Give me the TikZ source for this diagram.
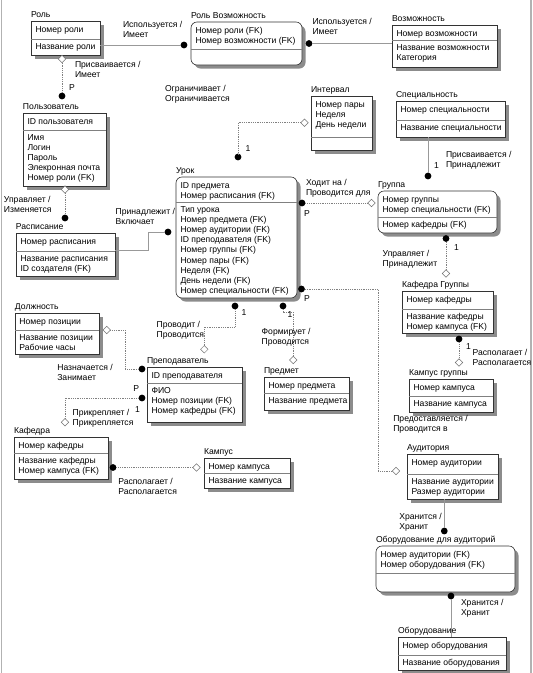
\documentclass[tikz,border=0pt]{standalone}
\usepackage{fontspec}
\setmainfont{Liberation Sans}
\usetikzlibrary{calc,shapes.geometric,shadows}
\newcommand\fsz{\fontsize{8.6}{10.1}\selectfont}
\newcommand\rows[1]{\begin{tabular}[t]{@{}l@{}}#1\end{tabular}}
\tikzset{
 box/.style={draw=black!80, line width=0.6pt, fill=white, inner sep=0pt, outer sep=0pt, anchor=north west,
   drop shadow={shadow xshift=3.5pt, shadow yshift=-3.5pt, fill=black!45, opacity=1}},
 rbox/.style={box, rounded corners=6pt},
 divl/.style={draw=black!50, line width=0.6pt},
 txt/.style={anchor=base west, inner sep=0pt, outer sep=0pt, font=\fsz, text=black},
 sol/.style={draw=black!40, line width=0.7pt},
 dotc/.style={draw=black!50, line width=0.7pt, dash pattern=on 0.9pt off 0.9pt},
 dotm/.style={circle, fill=black, inner sep=0pt, outer sep=0pt, minimum size=6.8pt},
 diam/.style={diamond, draw=black!55, fill=white, line width=0.5pt, inner sep=0pt, outer sep=0pt, minimum size=7.5pt},
}
\newcommand\ent[9]{%
 \node[#2, minimum width={#5-#3}, minimum height={#6-#4}] (#1) at (#3,#4) {};
 \draw[divl] (#3,#7) -- (#5,#7);
 \node[txt] (#1-t) at (#3,#4-4) {#8};
 \node[txt] (#1-k) at (#3+4.5,#4+11) {\rows{#9}};
 \gdef\lastx{#3}\gdef\lastdiv{#7}}
\newcommand\eattr[2]{\node[txt] (#1-a) at (\lastx+4.5,\lastdiv+10.5) {\rows{#2}};}
\begin{document}
\begin{tikzpicture}[x=1pt,y=-1pt]
\useasboundingbox (0,0) rectangle (533,673);
\draw[black!30, line width=1.2pt] (1.5,0) -- (1.5,673);
\draw[black!30, line width=1.2pt] (531,0) -- (531,673);

% entities
\ent{rol}{box}{31}{21}{100}{55}{39}{Роль}{Номер роли}
\eattr{rol}{Название роли}
\ent{rv}{rbox}{191}{22}{302}{65}{49}{Роль Возможность}{Номер роли (FK)\\Номер возможности (FK)}
\ent{voz}{box}{392}{25}{497}{67}{40}{Возможность}{Номер возможности}
\eattr{voz}{Название возможности\\Категория}
\ent{pol}{box}{23}{113}{106}{186}{130}{Пользователь}{ID пользователя}
\eattr{pol}{Имя\\Логин\\Пароль\\Элекронная почта\\Номер роли (FK)}
\ent{ras}{box}{16}{233}{115}{276}{251}{Расписание}{Номер расписания}
\eattr{ras}{Название расписания\\ID создателя (FK)}
\ent{int}{box}{311}{96}{372}{150}{137}{Интервал}{Номер пары\\Неделя\\День недели}
\ent{spc}{box}{396}{101}{505}{137}{120}{Специальность}{Номер специальности}
\eattr{spc}{Название специальности}
\ent{urok}{rbox}{176}{177}{297}{298}{202}{Урок}{ID предмета\\Номер расписания (FK)}
\eattr{urok}{Тип урока\\Номер предмета (FK)\\Номер аудитории (FK)\\ID преподавателя (FK)\\Номер группы (FK)\\Номер пары (FK)\\Неделя (FK)\\День недели (FK)\\Номер специальности (FK)}
\ent{grp}{rbox}{378}{191}{497}{233}{217}{Группа}{Номер группы\\Номер специальности (FK)}
\eattr{grp}{Номер кафедры (FK)}
\ent{kg}{box}{402}{291}{493}{333}{309}{Кафедра Группы}{Номер кафедры}
\eattr{kg}{Название кафедры\\Номер кампуса (FK)}
\ent{kmg}{box}{409}{379}{493}{412}{396}{Кампус группы}{Номер кампуса}
\eattr{kmg}{Название кампуса}
\ent{aud}{box}{407}{454}{498}{499}{474}{Аудитория}{Номер аудитории}
\eattr{aud}{Название аудитории\\Размер аудитории}
\ent{oda}{rbox}{376}{546}{515}{592}{573}{Оборудование для аудиторий}{Номер аудитории (FK)\\Номер оборудования (FK)}
\ent{obo}{box}{398}{637}{506}{670}{655}{Оборудование}{Номер оборудования}
\eattr{obo}{Название оборудования}
\ent{dol}{box}{15}{313}{99}{354}{330}{Должность}{Номер позиции}
\eattr{dol}{Название позиции\\Рабочие часы}
\ent{pre}{box}{147}{367}{242}{422}{383}{Преподаватель}{ID преподавателя}
\eattr{pre}{ФИО\\Номер позиции (FK)\\Номер кафедры (FK)}
\ent{prd}{box}{264}{377}{349}{410}{393}{Предмет}{Номер предмета}
\eattr{prd}{Название предмета}
\ent{kaf}{box}{14}{437}{108}{479}{453}{Кафедра}{Номер кафедры}
\eattr{kaf}{Название кафедры\\Номер кампуса (FK)}
\ent{kmp}{box}{204}{458}{290}{488}{473}{Кампус}{Номер кампуса}
\eattr{kmp}{Название кампуса}

% relationship ends
\node[dotm] (drv) at (184,45) {};
\node[dotm] (dvz) at (309,43.5) {};
\node[dotm] (dpol) at (62,96) {};
\node[dotm] (dras) at (65,218) {};
\node[dotm] (durR) at (168,232) {};
\node[dotm] (durI) at (238,157) {};
\node[dotm] (durG) at (302,203) {};
\node[dotm] (dspc) at (428,176) {};
\node[dotm] (dgrp) at (446,238.5) {};
\node[dotm] (dkg) at (459,339) {};
\node[dotm] (durA) at (301.5,289) {};
\node[dotm] (daud) at (444.3,531) {};
\node[dotm] (doda) at (451,596) {};
\node[dotm] (durP) at (235,306) {};
\node[dotm] (durM) at (283,306) {};
\node[dotm] (dpreD) at (142,369) {};
\node[dotm] (dpreK) at (142,398) {};
\node[dotm] (dkaf) at (113,467.5) {};

\node[diam] (mrol) at (62,59) {};
\node[diam] (mpol) at (65,189.5) {};
\node[diam] (mint) at (304.5,122.7) {};
\node[diam] (mgrp) at (371.5,203) {};
\node[diam] (mkg) at (446,273.5) {};
\node[diam] (mkmg) at (459,362.5) {};
\node[diam] (maud) at (396,471) {};
\node[diam] (mpre) at (204.3,349.3) {};
\node[diam] (mprd) at (293.3,360) {};
\node[diam] (mdol) at (106.7,330) {};
\node[diam] (mkaf) at (65,422.3) {};
\node[diam] (mkmp) at (196.5,467.5) {};

% connectors
\draw[sol] (rol.east |- drv) -- (drv);
\draw[sol] (dvz) -- (dvz -| voz.west);
\draw[sol] (spc.south -| dspc) -- (dspc);
\draw[sol] ($(ras.north east)+(0,17)$) -- ++(33,0) |- (durR);
\draw[sol] (aud.south -| daud) -- (daud);
\draw[sol] (doda) -- (doda |- obo.north);
\draw[dotc] (mrol) -- (dpol);
\draw[dotc] (mpol) -- (dras);
\draw[dotc] (mint) -| (durI);
\draw[dotc] (durG) -- (mgrp);
\draw[dotc] (dgrp) -- (mkg);
\draw[dotc] (dkg) -- (mkmg);
\draw[dotc] (durA) -- ++(76.5,0) |- (maud);
\draw[dotc] (durP) -- ++(0,21) -| (mpre);
\draw[dotc] (durM) -- ++(0,6) -| (mprd);
\draw[dotc] (mdol) -- ++(18.3,0) |- (dpreD);
\draw[dotc] (dpreK) -| (mkaf);
\draw[dotc] (dkaf) -- (mkmp);

% labels
\node[txt] (l1) at (123,27) {\rows{Используется /\\Имеет}};
\node[txt] (l2) at (312.5,24) {\rows{Используется /\\Имеет}};
\node[txt] (l3) at (75,67) {\rows{Присваивается /\\Имеет}};
\node[txt] (l3p) at (69,90) {P};
\node[txt] (l4) at (4,202) {\rows{Управляет /\\Изменяется}};
\node[txt] (l5) at (115.7,214.3) {\rows{Принадлежит /\\Включает}};
\node[txt] (l6) at (165,91.5) {\rows{Ограничивает /\\Ограничивается}};
\node[txt] (l6n) at (245.5,151) {1};
\node[txt] (l7) at (306,185) {\rows{Ходит на /\\Проводится для}};
\node[txt] (l7p) at (304,216.5) {P};
\node[txt] (l8n) at (434,168.3) {1};
\node[txt] (l8) at (446,157.7) {\rows{Присваивается /\\Принадлежит}};
\node[txt] (l9n) at (454,250) {1};
\node[txt] (l9) at (382.7,256) {\rows{Управляет /\\Принадлежит}};
\node[txt] (l10n) at (466,349) {1};
\node[txt] (l10) at (472.7,355) {\rows{Располагает /\\Располагается}};
\node[txt] (l11p) at (304,301.7) {P};
\node[txt] (l11) at (393.3,421.7) {\rows{Предоставляется /\\Проводится в}};
\node[txt] (l12) at (399.3,519.3) {\rows{Хранится /\\Хранит}};
\node[txt] (l13) at (461,605) {\rows{Хранится /\\Хранит}};
\node[txt] (l14n) at (241.7,315.7) {1};
\node[txt] (l14) at (156.7,327.3) {\rows{Проводит /\\Проводится}};
\node[txt] (l15n) at (287.5,317) {1};
\node[txt] (l15) at (261.7,334) {\rows{Формирует /\\Проводится}};
\node[txt] (l16) at (57.3,370) {\rows{Назначается /\\Занимает}};
\node[txt] (l16p) at (133.3,391.5) {P};
\node[txt] (l17n) at (135,412) {1};
\node[txt] (l17) at (72.7,415) {\rows{Прикрепляет /\\Прикрепляется}};
\node[txt] (l18) at (118.3,484) {\rows{Располагает /\\Располагается}};
\end{tikzpicture}
\end{document}
